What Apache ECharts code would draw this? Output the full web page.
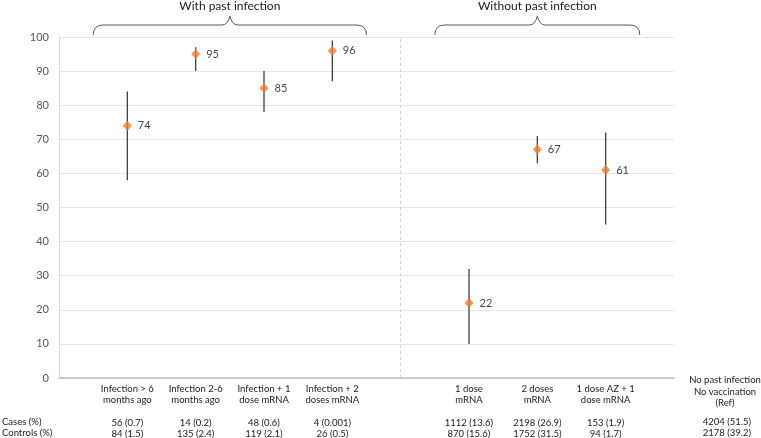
<!DOCTYPE html>
<html>
<head>
<meta charset="utf-8">
<script src="https://cdn.jsdelivr.net/npm/echarts@6/dist/echarts.min.js"></script>
<style>html,body{margin:0;padding:0;background:#fff}#c{width:761px;height:438px}</style>
</head>
<body>
<div id="c"></div>
<script>
// ---- data ----
const categories = ['', 'Infection > 6\nmonths ago', 'Infection 2-6\nmonths ago', 'Infection + 1\ndose mRNA', 'Infection + 2\ndoses mRNA', '', '1 dose\nmRNA', '2 doses\nmRNA', '1 dose AZ + 1\ndose mRNA', ''];
const estimates = [null, 74, 95, 85, 96, null, 22, 67, 61, null];
const ciLow =     [null, 58, 90, 78, 87, null, 10, 63, 45, null];
const ciHigh =    [null, 84, 97, 90, 99, null, 32, 71, 72, null];
const casesRow =    ['', '56 (0.7)', '14 (0.2)', '48 (0.6)', '4 (0.001)', '', '1112 (13.6)', '2198 (26.9)', '153 (1.9)', ''];
const controlsRow = ['', '84 (1.5)', '135 (2.4)', '119 (2.1)', '26 (0.5)', '', '870 (15.6)', '1752 (31.5)', '94 (1.7)', ''];
const refLabel = 'No past infection\nNo vaccination\n(Ref)';
const refCases = '4204 (51.5)';
const refControls = '2178 (39.2)';
const rowTitles = ['Cases (%)', 'Controls (%)'];
const groups = [
  {name: 'With past infection', from: 0.5, to: 4.5},
  {name: 'Without past infection', from: 5.5, to: 8.5}
];
const yTicks = {min: 0, max: 100, interval: 10};
const separatorIndex = 5;

const FONT = 'Lato';
const FS = 9.5;
const chart = echarts.init(document.getElementById('c'), null, {renderer: 'canvas'});

const errData = categories.map((c, i) => estimates[i] == null ? null : [i, ciLow[i], ciHigh[i]]).filter(d => d);
const ptData = categories.map((c, i) => estimates[i] == null ? null : [i, estimates[i]]).filter(d => d);

const option = {
  animation: false,
  textStyle: {fontFamily: FONT},
  grid: {left: 59, right: 87, top: 37, bottom: 60, containLabel: false, outerBoundsMode: 'none'},
  xAxis: {
    type: 'category',
    data: categories,
    boundaryGap: false,
    axisLine: {lineStyle: {color: '#bfbfbf', width: 1.5}},
    axisTick: {show: false},
    splitLine: {show: false},
    axisLabel: {
      interval: 0,
      margin: 5,
      formatter: function (v, i) {
        if (!v) return '';
        return '{a|' + v.split('\n').join('}\n{a|') + '}\n{g|}\n{a|' + casesRow[i] + '}\n{a|' + controlsRow[i] + '}';
      },
      rich: {
        a: {fontSize: FS, lineHeight: 11, color: '#222', fontFamily: FONT, align: 'center'},
        g: {fontSize: FS, lineHeight: 12}
      }
    }
  },
  yAxis: {
    type: 'value',
    min: yTicks.min, max: yTicks.max, interval: yTicks.interval,
    axisLine: {show: true, lineStyle: {color: '#d9d9d9', width: 1}},
    axisTick: {show: false},
    splitLine: {lineStyle: {color: '#e6e6e6', width: 1.2}},
    axisLabel: {color: '#595959', fontSize: 11, margin: 10, fontFamily: FONT}
  },
  series: [
    {
      type: 'custom',
      data: errData,
      renderItem: function (params, api) {
        const p1 = api.coord([api.value(0), api.value(1)]);
        const p2 = api.coord([api.value(0), api.value(2)]);
        return {type: 'line', shape: {x1: p1[0], y1: p1[1], x2: p2[0], y2: p2[1]}, style: {stroke: '#404040', lineWidth: 1.3}};
      },
      z: 2
    },
    {
      type: 'scatter',
      data: ptData,
      symbol: 'diamond',
      symbolSize: [9, 10],
      itemStyle: {color: '#ED7D31'},
      label: {show: true, position: 'right', distance: 6, color: '#111', fontSize: 11, fontFamily: FONT,
        formatter: p => p.value[1]},
      z: 3,
      markLine: {
        silent: true,
        symbol: 'none',
        label: {show: false},
        lineStyle: {color: '#cfcfcf', type: [3, 3], width: 1},
        data: [{xAxis: separatorIndex}]
      }
    }
  ]
};
chart.setOption(option);

// braces and extra text
function xpix(f) {
  const a = Math.floor(f), b = Math.ceil(f);
  const pa = chart.convertToPixel({xAxisIndex: 0}, a);
  const pb = chart.convertToPixel({xAxisIndex: 0}, b);
  return pa + (pb - pa) * (f - a);
}
const graphics = [];
const braceStyle = {fill: null, stroke: '#595959', lineWidth: 1};
groups.forEach(g => {
  const x1 = xpix(g.from), x2 = xpix(g.to), m = (x1 + x2) / 2;
  const yb = 25, ye = 35, yt = 16;
  graphics.push({type: 'bezierCurve', shape: {x1: x1, y1: ye, cpx1: x1, cpy1: yb, x2: x1 + 10, y2: yb}, style: braceStyle});
  graphics.push({type: 'line', shape: {x1: x1 + 10, y1: yb, x2: m - 8, y2: yb}, style: braceStyle});
  graphics.push({type: 'bezierCurve', shape: {x1: m - 8, y1: yb, cpx1: m - 2, cpy1: yb, x2: m, y2: yt}, style: braceStyle});
  graphics.push({type: 'bezierCurve', shape: {x1: m, y1: yt, cpx1: m + 2, cpy1: yb, x2: m + 8, y2: yb}, style: braceStyle});
  graphics.push({type: 'line', shape: {x1: m + 8, y1: yb, x2: x2 - 10, y2: yb}, style: braceStyle});
  graphics.push({type: 'bezierCurve', shape: {x1: x2 - 10, y1: yb, cpx1: x2, cpy1: yb, x2: x2, y2: ye}, style: braceStyle});
  graphics.push({
    type: 'text', x: m, y: 6,
    style: {text: g.name, fontSize: 12, fontFamily: FONT, fill: '#222', align: 'center', verticalAlign: 'middle'}
  });
});
graphics.push({type: 'text', x: 2, y: 422, style: {text: rowTitles[0], fontSize: FS, fontFamily: FONT, fill: '#222', verticalAlign: 'middle'}});
graphics.push({type: 'text', x: 2, y: 433, style: {text: rowTitles[1], fontSize: FS, fontFamily: FONT, fill: '#222', verticalAlign: 'middle'}});
graphics.push({type: 'text', x: 725, y: 374.5, style: {text: refLabel, fontSize: FS, lineHeight: 11.5, fontFamily: FONT, fill: '#222', align: 'center', verticalAlign: 'top'}});
graphics.push({type: 'text', x: 727, y: 422, style: {text: refCases, fontSize: FS, fontFamily: FONT, fill: '#222', align: 'center', verticalAlign: 'middle'}});
graphics.push({type: 'text', x: 727, y: 433, style: {text: refControls, fontSize: FS, fontFamily: FONT, fill: '#222', align: 'center', verticalAlign: 'middle'}});
chart.setOption({graphic: graphics});
</script>
</body>
</html>
